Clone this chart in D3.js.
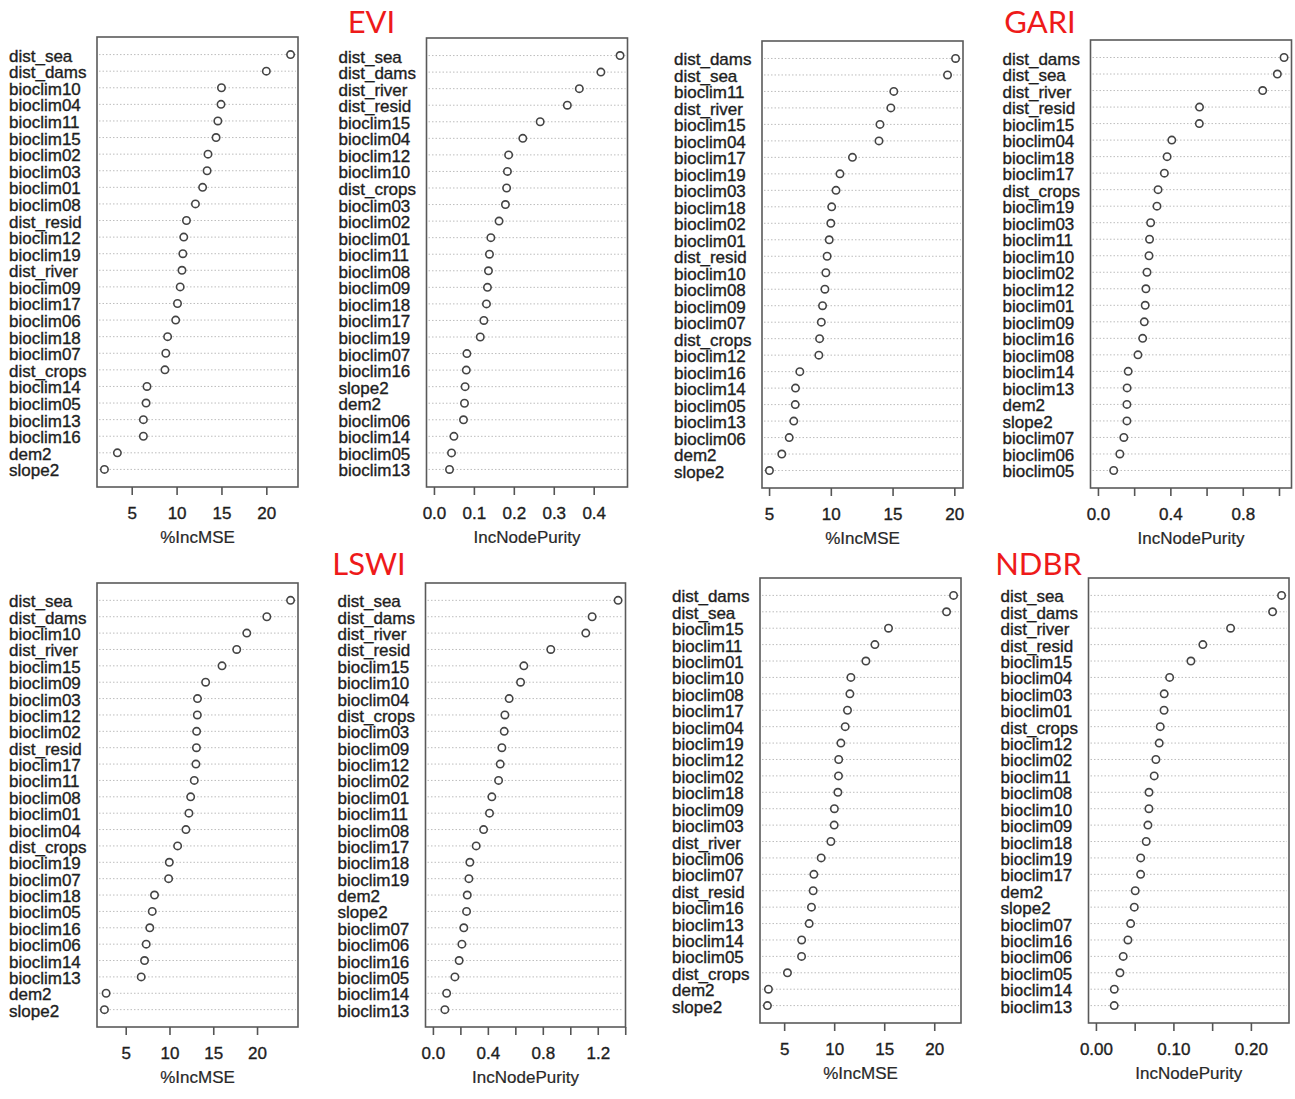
<!DOCTYPE html>
<html>
<head>
<meta charset="utf-8">
<script src="https://cdn.jsdelivr.net/npm/d3@7"></script>
<style>
    body { margin: 0; background: #fff; }
    .label, .tick text, .axis-title { font-family: "Liberation Sans", Arial, sans-serif; font-size: 17px; fill: #1e1e1e; stroke: #1e1e1e; stroke-width: 0.35px; }
    .axis-title { fill: #2a2a2a; stroke-width: 0.2px; }
    .title { font-family: Lato, "Open Sans", sans-serif; font-size: 31px; fill: #ee1a1a; }
</style>
</head>
<body>
<div id="chart"></div>
<script>

// ---- data (variable importance, top row = most important) ----

const eviMseLabels = ["dist_sea", "dist_dams", "bioclim10", "bioclim04", "bioclim11", "bioclim15", "bioclim02", "bioclim03", "bioclim01", "bioclim08", "dist_resid", "bioclim12", "bioclim19", "dist_river", "bioclim09", "bioclim17", "bioclim06", "bioclim18", "bioclim07", "dist_crops", "bioclim14", "bioclim05", "bioclim13", "bioclim16", "dem2", "slope2"];
const eviMseValues = [22.7, 20.0, 15.0, 14.95, 14.6, 14.4, 13.5, 13.4, 12.9, 12.1, 11.1, 10.8, 10.7, 10.6, 10.4, 10.1, 9.9, 9.0, 8.8, 8.7, 6.7, 6.6, 6.3, 6.3, 3.4, 1.96];

const eviNpLabels = ["dist_sea", "dist_dams", "dist_river", "dist_resid", "bioclim15", "bioclim04", "bioclim12", "bioclim10", "dist_crops", "bioclim03", "bioclim02", "bioclim01", "bioclim11", "bioclim08", "bioclim09", "bioclim18", "bioclim17", "bioclim19", "bioclim07", "bioclim16", "slope2", "dem2", "bioclim06", "bioclim14", "bioclim05", "bioclim13"];
const eviNpValues = [0.466, 0.418, 0.364, 0.334, 0.266, 0.2225, 0.187, 0.184, 0.182, 0.179, 0.163, 0.1425, 0.139, 0.1365, 0.134, 0.1315, 0.125, 0.116, 0.0825, 0.081, 0.078, 0.0765, 0.074, 0.05, 0.044, 0.039];

const gariMseLabels = ["dist_dams", "dist_sea", "bioclim11", "dist_river", "bioclim15", "bioclim04", "bioclim17", "bioclim19", "bioclim03", "bioclim18", "bioclim02", "bioclim01", "dist_resid", "bioclim10", "bioclim08", "bioclim09", "bioclim07", "dist_crops", "bioclim12", "bioclim16", "bioclim14", "bioclim05", "bioclim13", "bioclim06", "dem2", "slope2"];
const gariMseValues = [20.1, 19.45, 15.1, 14.86, 13.98, 13.9, 11.75, 10.74, 10.42, 10.07, 10.0, 9.87, 9.7, 9.6, 9.52, 9.33, 9.23, 9.09, 9.03, 7.49, 7.14, 7.12, 7.0, 6.63, 6.03, 5.03];

const gariNpLabels = ["dist_dams", "dist_sea", "dist_river", "dist_resid", "bioclim15", "bioclim04", "bioclim18", "bioclim17", "dist_crops", "bioclim19", "bioclim03", "bioclim11", "bioclim10", "bioclim02", "bioclim12", "bioclim01", "bioclim09", "bioclim16", "bioclim08", "bioclim14", "bioclim13", "dem2", "slope2", "bioclim07", "bioclim06", "bioclim05"];
const gariNpValues = [1.028, 0.991, 0.910, 0.561, 0.560, 0.408, 0.382, 0.367, 0.332, 0.326, 0.291, 0.285, 0.282, 0.271, 0.265, 0.261, 0.256, 0.247, 0.221, 0.167, 0.161, 0.160, 0.160, 0.143, 0.121, 0.087];

const lswiMseLabels = ["dist_sea", "dist_dams", "bioclim10", "dist_river", "bioclim15", "bioclim09", "bioclim03", "bioclim12", "bioclim02", "dist_resid", "bioclim17", "bioclim11", "bioclim08", "bioclim01", "bioclim04", "dist_crops", "bioclim19", "bioclim07", "bioclim18", "bioclim05", "bioclim16", "bioclim06", "bioclim14", "bioclim13", "dem2", "slope2"];
const lswiMseValues = [23.83, 21.12, 18.83, 17.68, 16.0, 14.13, 13.2, 13.18, 13.1, 13.08, 13.02, 12.83, 12.42, 12.22, 11.88, 10.93, 9.98, 9.9, 8.29, 8.03, 7.75, 7.34, 7.15, 6.77, 2.76, 2.57];

const lswiNpLabels = ["dist_sea", "dist_dams", "dist_river", "dist_resid", "bioclim15", "bioclim10", "bioclim04", "dist_crops", "bioclim03", "bioclim09", "bioclim12", "bioclim02", "bioclim01", "bioclim11", "bioclim08", "bioclim17", "bioclim18", "bioclim19", "dem2", "slope2", "bioclim07", "bioclim06", "bioclim16", "bioclim05", "bioclim14", "bioclim13"];
const lswiNpValues = [1.348, 1.159, 1.113, 0.858, 0.662, 0.638, 0.555, 0.524, 0.519, 0.502, 0.490, 0.478, 0.429, 0.412, 0.369, 0.315, 0.269, 0.262, 0.25, 0.245, 0.225, 0.211, 0.191, 0.16, 0.1, 0.087];

const ndbrMseLabels = ["dist_dams", "dist_sea", "bioclim15", "bioclim11", "bioclim01", "bioclim10", "bioclim08", "bioclim17", "bioclim04", "bioclim19", "bioclim12", "bioclim02", "bioclim18", "bioclim09", "bioclim03", "dist_river", "bioclim06", "bioclim07", "dist_resid", "bioclim16", "bioclim13", "bioclim14", "bioclim05", "dist_crops", "dem2", "slope2"];
const ndbrMseValues = [21.93, 21.23, 15.43, 14.07, 13.17, 11.67, 11.57, 11.33, 11.1, 10.67, 10.45, 10.43, 10.37, 10.02, 10.0, 9.67, 8.7, 7.97, 7.9, 7.73, 7.5, 6.75, 6.74, 5.33, 3.43, 3.33];

const ndbrNpLabels = ["dist_sea", "dist_dams", "dist_river", "dist_resid", "bioclim15", "bioclim04", "bioclim03", "bioclim01", "dist_crops", "bioclim12", "bioclim02", "bioclim11", "bioclim08", "bioclim10", "bioclim09", "bioclim18", "bioclim19", "bioclim17", "dem2", "slope2", "bioclim07", "bioclim16", "bioclim06", "bioclim05", "bioclim14", "bioclim13"];
const ndbrNpValues = [0.2396, 0.228, 0.1738, 0.138, 0.1226, 0.0951, 0.0881, 0.0879, 0.083, 0.0817, 0.0774, 0.0752, 0.0685, 0.0684, 0.0671, 0.0649, 0.0578, 0.0577, 0.0507, 0.0495, 0.0448, 0.0413, 0.0352, 0.031, 0.0237, 0.0236];

const indexNames = ["EVI", "GARI", "LSWI", "NDBR"];

/* * * * * * * * * * * * * * * * * * * * * * * *
*   one dotchart panel, like R's varImpPlot     *
* * * * * * * * * * * * * * * * * * * * * * * * */

class ImportancePanel {
    constructor(svg, box, labels, values, measure) {
        this.g = svg.append("g").attr("class", "panel");
        this.box = box;
        this.labels = labels;
        this.values = values;
        this.measure = measure;

        // varImpPlot: IncNodePurity starts at 0, %IncMSE at its minimum; R pads 4%
        const lo = measure === "IncNodePurity" ? 0 : d3.min(values);
        const hi = d3.max(values);
        const pad = (hi - lo) * 0.04;

        this.x = d3.scaleLinear()
            .domain([lo - pad, hi + pad])
            .range([box.x, box.x + box.w]);

        this.y = d3.scalePoint()
            .domain(labels)
            .range([box.y, box.y + box.h])
            .padding(1.06);

        this.draw();
    }

    draw() {
        const { g, box, x, y } = this;
        const rows = this.labels.map((name, i) => ({ name, value: this.values[i] }));

        // dotted guide lines
        g.selectAll("line.guide")
            .data(rows)
            .join("line")
            .attr("class", "guide")
            .attr("x1", box.x + 2)
            .attr("x2", box.x + box.w - 2)
            .attr("y1", d => y(d.name))
            .attr("y2", d => y(d.name))
            .attr("stroke", "#bdbdbd")
            .attr("stroke-width", 1)
            .attr("stroke-dasharray", "1.5,2");

        g.append("rect")
            .attr("x", box.x)
            .attr("y", box.y)
            .attr("width", box.w)
            .attr("height", box.h)
            .attr("fill", "none")
            .attr("stroke", "#5a5a5a")
            .attr("stroke-width", 1.6);

        g.selectAll("circle.pt")
            .data(rows)
            .join("circle")
            .attr("class", "pt")
            .attr("cx", d => x(d.value))
            .attr("cy", d => y(d.name))
            .attr("r", 3.7)
            .attr("fill", "#fff")
            .attr("stroke", "#444")
            .attr("stroke-width", 1.6);

        // row labels, left aligned like dotchart's mtext(adj = 0)
        g.selectAll("text.label")
            .data(rows)
            .join("text")
            .attr("class", "label")
            .attr("x", box.x - 88)
            .attr("y", d => y(d.name) + 7)
            .text(d => d.name);

        const axis = d3.axisBottom(x)
            .ticks(5)
            .tickSizeInner(8)
            .tickSizeOuter(0)
            .tickFormat(x.tickFormat(5));

        const ax = g.append("g")
            .attr("class", "axis")
            .attr("transform", `translate(0,${box.y + box.h})`)
            .call(axis);

        ax.select(".domain").remove();
        ax.selectAll(".tick line").attr("stroke", "#555").attr("stroke-width", 1.6);
        ax.selectAll(".tick text").attr("y", 32).attr("dy", null);

        // drop labels that would crowd their neighbour (R does the same)
        let lastRight = -Infinity;
        ax.selectAll(".tick text").each(function () {
            const t = d3.select(this);
            const bb = this.getBBox();
            const tx = +this.parentNode.getAttribute("transform").match(/translate\(([-\d.]+)/)[1];
            const left = tx + bb.x;
            if (left < lastRight + 14) t.remove();
            else lastRight = left + bb.width;
        });

        g.append("text")
            .attr("class", "axis-title")
            .attr("x", box.x + box.w / 2)
            .attr("y", box.y + box.h + 56)
            .attr("text-anchor", "middle")
            .text(this.measure);
    }
}

const svg = d3.select("#chart").append("svg")
    .attr("width", 1295)
    .attr("height", 1099);

const panels = [
    { box: { x: 97, y: 37, w: 201, h: 450 }, labels: eviMseLabels, values: eviMseValues, measure: "%IncMSE" },
    { box: { x: 426.5, y: 38, w: 201, h: 449 }, labels: eviNpLabels, values: eviNpValues, measure: "IncNodePurity" },
    { box: { x: 762, y: 41, w: 201, h: 447 }, labels: gariMseLabels, values: gariMseValues, measure: "%IncMSE" },
    { box: { x: 1090.5, y: 40, w: 201, h: 448 }, labels: gariNpLabels, values: gariNpValues, measure: "IncNodePurity" },
    { box: { x: 97, y: 583, w: 201, h: 444 }, labels: lswiMseLabels, values: lswiMseValues, measure: "%IncMSE" },
    { box: { x: 425.5, y: 583, w: 200, h: 444 }, labels: lswiNpLabels, values: lswiNpValues, measure: "IncNodePurity" },
    { box: { x: 760, y: 578, w: 201, h: 445 }, labels: ndbrMseLabels, values: ndbrMseValues, measure: "%IncMSE" },
    { box: { x: 1088.5, y: 578, w: 200.5, h: 445 }, labels: ndbrNpLabels, values: ndbrNpValues, measure: "IncNodePurity" }
];

panels.forEach(p => new ImportancePanel(svg, p.box, p.labels, p.values, p.measure));

// red index titles over each pair of panels
const titlePos = [[371.5, 33], [1040, 33], [369, 575], [1038.5, 575]];
svg.selectAll("text.title")
    .data(indexNames)
    .join("text")
    .attr("class", "title")
    .attr("x", (d, i) => titlePos[i][0])
    .attr("y", (d, i) => titlePos[i][1])
    .attr("text-anchor", "middle")
    .text(d => d);

</script>
</body>
</html>
